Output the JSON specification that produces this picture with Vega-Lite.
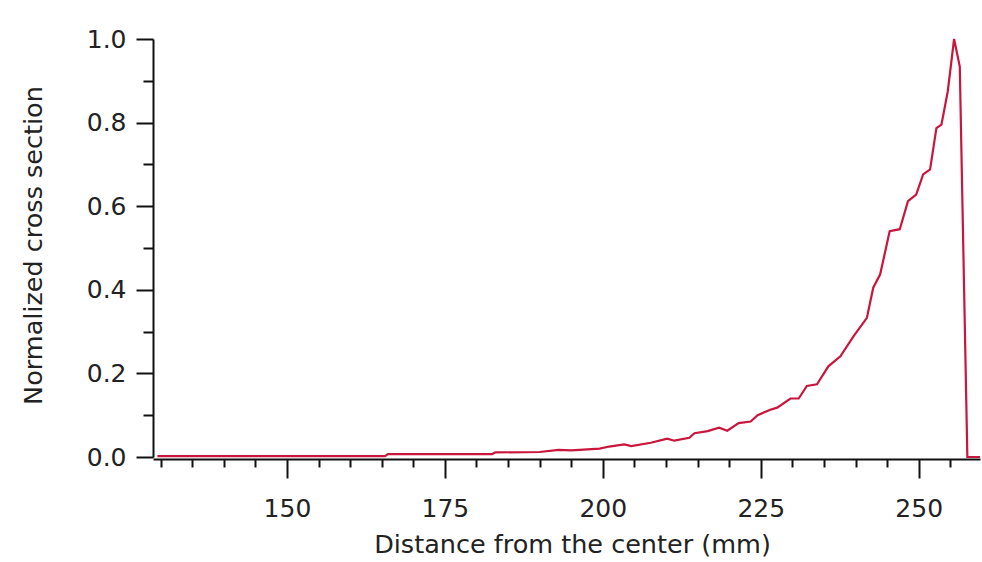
{
  "$schema": "https://vega.github.io/schema/vega-lite/v6.json",
  "width": 827,
  "height": 418,
  "autosize": "none",
  "padding": {"left": 153, "top": 39, "right": 2, "bottom": 105},
  "background": "white",
  "config": {
    "view": {"stroke": null},
    "axis": {
      "labelFont": "DejaVu Sans",
      "titleFont": "DejaVu Sans",
      "labelFontSize": 25,
      "titleFontSize": 25.5,
      "titleFontWeight": "normal",
      "labelColor": "#222222",
      "titleColor": "#222222",
      "domainColor": "#111111",
      "tickColor": "#111111",
      "domainWidth": 2,
      "tickWidth": 2,
      "grid": false,
      "labelFlush": false,
      "labelOverlap": false
    }
  },
  "data": {
    "values": [
      {"distance": 129.5, "cs": 0.002},
      {"distance": 165.5, "cs": 0.002},
      {"distance": 166.0, "cs": 0.007},
      {"distance": 182.5, "cs": 0.007},
      {"distance": 183.0, "cs": 0.011},
      {"distance": 190.0, "cs": 0.012},
      {"distance": 193.0, "cs": 0.017},
      {"distance": 195.0, "cs": 0.016},
      {"distance": 199.5, "cs": 0.020},
      {"distance": 201.0, "cs": 0.025},
      {"distance": 203.4, "cs": 0.030},
      {"distance": 204.5, "cs": 0.026},
      {"distance": 207.6, "cs": 0.034},
      {"distance": 210.2, "cs": 0.044},
      {"distance": 211.3, "cs": 0.039},
      {"distance": 213.7, "cs": 0.046},
      {"distance": 214.5, "cs": 0.057},
      {"distance": 216.6, "cs": 0.062},
      {"distance": 218.4, "cs": 0.070},
      {"distance": 219.7, "cs": 0.063},
      {"distance": 221.5, "cs": 0.081},
      {"distance": 223.4, "cs": 0.085},
      {"distance": 224.5, "cs": 0.100},
      {"distance": 226.5, "cs": 0.113},
      {"distance": 227.6, "cs": 0.118},
      {"distance": 229.7, "cs": 0.140},
      {"distance": 231.0, "cs": 0.140},
      {"distance": 232.3, "cs": 0.170},
      {"distance": 233.9, "cs": 0.174},
      {"distance": 235.7, "cs": 0.217},
      {"distance": 237.6, "cs": 0.241},
      {"distance": 239.7, "cs": 0.289},
      {"distance": 241.8, "cs": 0.333},
      {"distance": 242.8, "cs": 0.405},
      {"distance": 243.9, "cs": 0.437},
      {"distance": 245.4, "cs": 0.540},
      {"distance": 247.0, "cs": 0.545},
      {"distance": 248.3, "cs": 0.612},
      {"distance": 249.6, "cs": 0.628},
      {"distance": 250.7, "cs": 0.676},
      {"distance": 251.8, "cs": 0.688},
      {"distance": 252.8, "cs": 0.787},
      {"distance": 253.6, "cs": 0.795},
      {"distance": 254.6, "cs": 0.875},
      {"distance": 255.6, "cs": 1.000},
      {"distance": 256.5, "cs": 0.934},
      {"distance": 257.7, "cs": 0.000},
      {"distance": 259.7, "cs": 0.000}
    ]
  },
  "mark": {"type": "line", "color": "#c8163c", "strokeWidth": 2.2},
  "encoding": {
    "x": {
      "field": "distance",
      "type": "quantitative",
      "scale": {"domain": [128.8, 259.7], "nice": false, "zero": false},
      "axis": {
        "title": "Distance from the center (mm)",
        "values": [130, 135, 140, 145, 150, 155, 160, 165, 170, 175, 180, 185, 190, 195, 200, 205, 210, 215, 220, 225, 230, 235, 240, 245, 250, 255],
        "labelExpr": "datum.value % 25 == 0 ? datum.label : ''",
        "tickSize": {"condition": {"test": "datum.value % 25 == 0", "value": 19}, "value": 8},
        "labelPadding": 18,
        "offset": 2,
        "titleY": 73,
        "titleX": 419
      }
    },
    "y": {
      "field": "cs",
      "type": "quantitative",
      "scale": {"domain": [0, 1], "nice": false},
      "axis": {
        "title": "Normalized cross section",
        "values": [0, 0.1, 0.2, 0.3, 0.4, 0.5, 0.6, 0.7, 0.8, 0.9, 1.0],
        "labelExpr": "round(datum.value * 10) % 2 == 0 ? format(datum.value, '.1f') : ''",
        "tickSize": {"condition": {"test": "round(datum.value * 10) % 2 == 0", "value": 17}, "value": 10},
        "labelPadding": 10,
        "titleX": -107,
        "titleY": 206
      }
    }
  }
}
